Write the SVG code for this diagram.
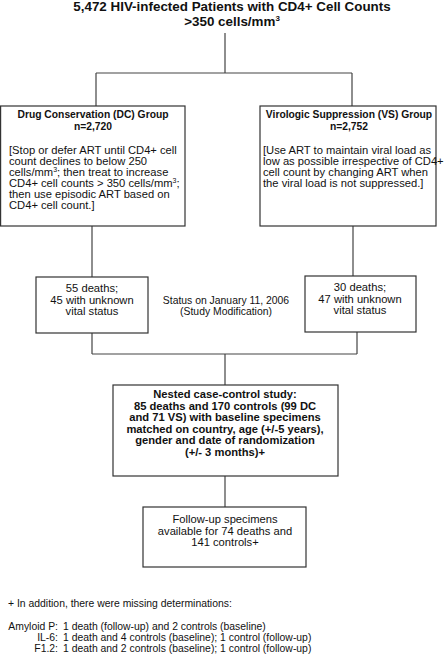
<svg xmlns="http://www.w3.org/2000/svg" width="446" height="656" viewBox="0 0 446 656">
<style>
text{font-family:"Liberation Sans",Arial,sans-serif;fill:#111}
.t{font-size:13.4px;font-weight:bold;text-anchor:middle}
.h{font-size:10.3px;font-weight:bold;text-anchor:middle}
.b{font-size:11.2px}
.c{font-size:11.2px;text-anchor:middle}
.nb{font-size:11.2px;font-weight:bold;text-anchor:middle}
.f{font-size:10.4px}
.fr{font-size:10.4px;text-anchor:end}
.box{fill:#fff;stroke:#333;stroke-width:1.2}
.ln{fill:none;stroke:#444;stroke-width:1.2}
</style>
<rect width="446" height="656" fill="#fff"/>
<g id="connectors">
<path class="ln" d="M225 33V73M96 73H352M96 73V106M352 73V106"/>
<path class="ln" d="M92 226V277M353 226V276"/>
<path class="ln" d="M92 333V354M357 332V354M92 354H357M225 354V385"/>
<path class="ln" d="M225 476V507"/>
</g>
<g id="title">
<text class="t" x="232" y="10.5">5,472 HIV-infected Patients with CD4+ Cell Counts</text>
<text class="t" x="232" y="26">&gt;350 cells/mm<tspan font-size="8" dy="-5.5">3</tspan></text>
</g>
<g id="dc">
<rect class="box" x="0.6" y="106" width="184.4" height="120"/>
<text class="h" x="93" y="118">Drug Conservation (DC) Group</text>
<text class="h" x="93" y="130">n=2,720</text>
<text class="b" x="9" y="154">[Stop or defer ART until CD4+ cell</text>
<text class="b" x="9" y="165">count declines to below 250</text>
<text class="b" x="9" y="176">cells/mm<tspan font-size="7" dy="-4.5">3</tspan><tspan dy="4.5">; then treat to increase</tspan></text>
<text class="b" x="9" y="187">CD4+ cell counts &gt; 350 cells/mm<tspan font-size="7" dy="-4.5">3</tspan><tspan dy="4.5">;</tspan></text>
<text class="b" x="9" y="198">then use episodic ART based on</text>
<text class="b" x="9" y="209">CD4+ cell count.]</text>
</g>
<g id="vs">
<rect class="box" x="260" y="106" width="176" height="120"/>
<text class="h" x="349" y="118">Virologic Suppression (VS) Group</text>
<text class="h" x="349" y="130">n=2,752</text>
<text class="b" x="263" y="154">[Use ART to maintain viral load as</text>
<text class="b" x="263" y="165">low as possible irrespective of CD4+</text>
<text class="b" x="263" y="176">cell count by changing ART when</text>
<text class="b" x="263" y="187">the viral load is not suppressed.]</text>
</g>
<g id="dc-status">
<rect class="box" x="36" y="277" width="112" height="56"/>
<text class="c" x="92" y="292">55 deaths;</text>
<text class="c" x="92" y="304">45 with unknown</text>
<text class="c" x="92" y="315">vital status</text>
</g>
<g id="status-label">
<text class="c" x="226" y="304" style="font-size:10.4px">Status on January 11, 2006</text>
<text class="c" x="226" y="315" style="font-size:10.4px">(Study Modification)</text>
</g>
<g id="vs-status">
<rect class="box" x="305" y="276" width="111" height="56"/>
<text class="c" x="360" y="291">30 deaths;</text>
<text class="c" x="360" y="303">47 with unknown</text>
<text class="c" x="360" y="314">vital status</text>
</g>
<g id="nested">
<rect class="box" x="113" y="385" width="225" height="91"/>
<text class="nb" x="225" y="398">Nested case-control study:</text>
<text class="nb" x="225" y="409.6">85 deaths and 170 controls (99 DC</text>
<text class="nb" x="225" y="421.2">and 71 VS) with baseline specimens</text>
<text class="nb" x="225" y="432.8">matched on country, age (+/-5 years),</text>
<text class="nb" x="225" y="444.4">gender and date of randomization</text>
<text class="nb" x="225" y="456">(+/- 3 months)+</text>
</g>
<g id="followup">
<rect class="box" x="143" y="507" width="163" height="60"/>
<text class="c" x="225" y="523">Follow-up specimens</text>
<text class="c" x="225" y="535">available for 74 deaths and</text>
<text class="c" x="225" y="546">141 controls+</text>
</g>
<g id="footnote">
<text class="f" x="8" y="607">+ In addition, there were missing determinations:</text>
<text class="fr" x="58" y="630">Amyloid P:</text>
<text class="f" x="63" y="630">1 death (follow-up) and 2 controls (baseline)</text>
<text class="fr" x="58" y="641">IL-6:</text>
<text class="f" x="63" y="641">1 death and 4 controls (baseline); 1 control (follow-up)</text>
<text class="fr" x="58" y="652">F1.2:</text>
<text class="f" x="63" y="652">1 death and 2 controls (baseline); 1 control (follow-up)</text>
</g>
</svg>
